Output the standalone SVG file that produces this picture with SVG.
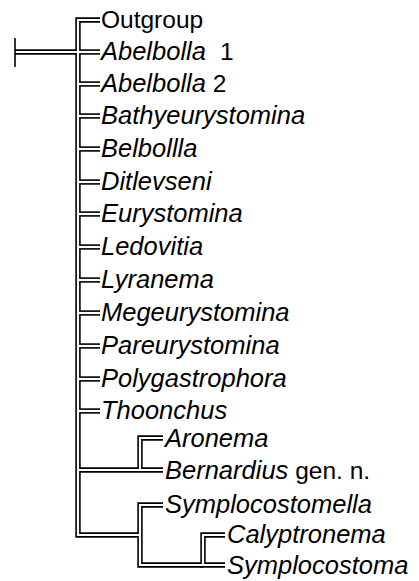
<svg xmlns="http://www.w3.org/2000/svg" width="419" height="581" viewBox="0 0 419 581">
<style>
.blk{fill:none;stroke:#000;stroke-width:5.4;stroke-linecap:butt;stroke-linejoin:miter}
.wht{fill:none;stroke:#fff;stroke-width:2.2;stroke-linecap:butt;stroke-linejoin:miter}
text{font-family:"Liberation Sans",Arial,Helvetica,sans-serif;font-size:24.5px;fill:#000}
.i{font-style:italic;font-size:25.5px}
</style>
<defs>
<path id="c-root" d="M15,52 H78"/>
<path id="c-main" d="M100,20 H78 V535 H140"/>
<path id="c-l1" d="M78,52 H100"/>
<path id="c-l2" d="M78,84 H100"/>
<path id="c-l3" d="M78,116 H100"/>
<path id="c-l4" d="M78,149 H100"/>
<path id="c-l5" d="M78,182 H100"/>
<path id="c-l6" d="M78,214 H100"/>
<path id="c-l7" d="M78,247 H100"/>
<path id="c-l8" d="M78,280 H100"/>
<path id="c-l9" d="M78,313 H100"/>
<path id="c-l10" d="M78,346 H100"/>
<path id="c-l11" d="M78,379 H100"/>
<path id="c-l12" d="M78,411 H100"/>
<path id="c-a1" d="M78,470 H163"/>
<path id="c-a2" d="M163,438 H140 V470"/>
<path id="c-s1" d="M163,505 H140 V565 H203"/>
<path id="c-s2" d="M225,535 H203 V565 H225"/>
</defs>
<g id="connectors">
<g class="blk">
<use href="#c-root"/><use href="#c-main"/><use href="#c-l1"/><use href="#c-l2"/><use href="#c-l3"/><use href="#c-l4"/><use href="#c-l5"/><use href="#c-l6"/><use href="#c-l7"/><use href="#c-l8"/><use href="#c-l9"/><use href="#c-l10"/><use href="#c-l11"/><use href="#c-l12"/><use href="#c-a1"/><use href="#c-a2"/><use href="#c-s1"/><use href="#c-s2"/>
</g>
<g class="wht">
<use href="#c-root"/><use href="#c-main"/><use href="#c-l1"/><use href="#c-l2"/><use href="#c-l3"/><use href="#c-l4"/><use href="#c-l5"/><use href="#c-l6"/><use href="#c-l7"/><use href="#c-l8"/><use href="#c-l9"/><use href="#c-l10"/><use href="#c-l11"/><use href="#c-l12"/><use href="#c-a1"/><use href="#c-a2"/><use href="#c-s1"/><use href="#c-s2"/>
</g>
<line x1="15" y1="38" x2="15" y2="67" stroke="#000" stroke-width="1.6"/>
</g>
<g id="n-outgroup"><text x="101" y="28">Outgroup</text></g>
<g id="n-abelbolla1"><text x="101" y="60"><tspan class="i">Abelbolla</tspan><tspan dx="14">1</tspan></text></g>
<g id="n-abelbolla2"><text x="101" y="92"><tspan class="i">Abelbolla</tspan> 2</text></g>
<g id="n-bathyeurystomina"><text class="i" x="101" y="124">Bathyeurystomina</text></g>
<g id="n-belbollla"><text class="i" x="101" y="157">Belbollla</text></g>
<g id="n-ditlevseni"><text class="i" x="101" y="190">Ditlevseni</text></g>
<g id="n-eurystomina"><text class="i" x="101" y="222">Eurystomina</text></g>
<g id="n-ledovitia"><text class="i" x="101" y="255">Ledovitia</text></g>
<g id="n-lyranema"><text class="i" x="101" y="288">Lyranema</text></g>
<g id="n-megeurystomina"><text class="i" x="101" y="321">Megeurystomina</text></g>
<g id="n-pareurystomina"><text class="i" x="101" y="354">Pareurystomina</text></g>
<g id="n-polygastrophora"><text class="i" x="101" y="387">Polygastrophora</text></g>
<g id="n-thoonchus"><text class="i" x="101" y="419">Thoonchus</text></g>
<g id="n-aronema"><text class="i" x="165" y="447">Aronema</text></g>
<g id="n-bernardius"><text x="165" y="479"><tspan class="i">Bernardius</tspan> gen. n.</text></g>
<g id="n-symplocostomella"><text class="i" x="165" y="513">Symplocostomella</text></g>
<g id="n-calyptronema"><text class="i" x="227" y="543">Calyptronema</text></g>
<g id="n-symplocostoma"><text class="i" x="227" y="574">Symplocostoma</text></g>
</svg>
